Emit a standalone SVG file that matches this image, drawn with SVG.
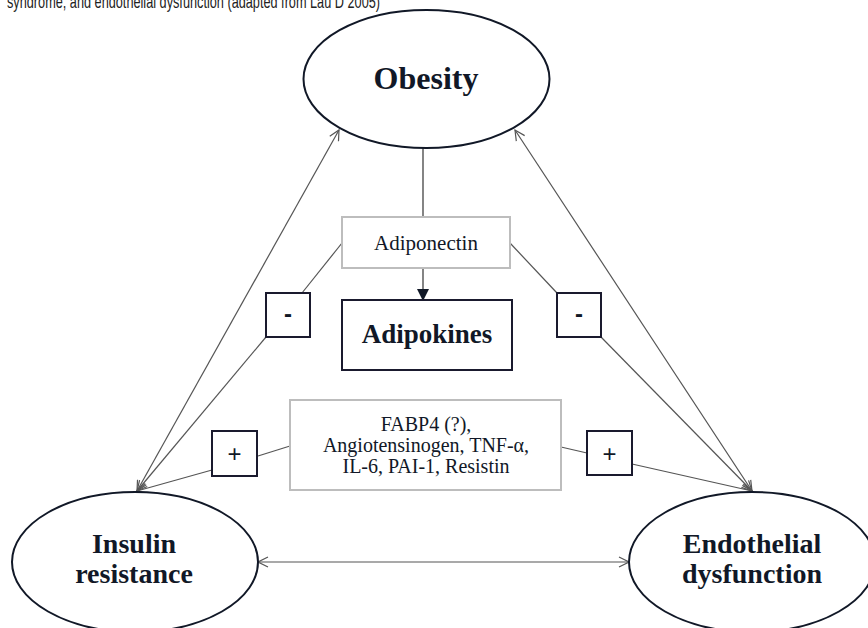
<svg xmlns="http://www.w3.org/2000/svg" width="868" height="628" viewBox="0 0 868 628">
<style>
.ell{fill:#fff;stroke:#111827;stroke-width:2}
.lbl{font-family:"Liberation Serif",serif;font-weight:bold;fill:#111827;text-anchor:middle}
.reg{font-family:"Liberation Serif",serif;fill:#111827;text-anchor:middle}
.lite{fill:#fff;stroke:#bdbdbd;stroke-width:2}
.dark{fill:#fff;stroke:#1a1a2e;stroke-width:2}
.con{fill:none;stroke:#555;stroke-width:1.2}
.sym{font-family:"Liberation Sans",sans-serif;fill:#111827;text-anchor:middle}
</style>
<defs>
<marker id="open" viewBox="0 0 12 12" refX="11" refY="6" markerWidth="12" markerHeight="12" markerUnits="userSpaceOnUse" orient="auto-start-reverse">
<path d="M1,1 L11,6 L1,11" fill="none" stroke="#555" stroke-width="1.2"/>
</marker>
<marker id="solid" viewBox="0 0 12 12" refX="11" refY="6" markerWidth="12" markerHeight="12" markerUnits="userSpaceOnUse" orient="auto">
<path d="M0,0 L12,6 L0,12 Z" fill="#111827"/>
</marker>
</defs>
<rect width="868" height="628" fill="#fff"/>
<text x="7" y="8" font-family="Liberation Sans, sans-serif" font-size="18" fill="#222" textLength="373" lengthAdjust="spacingAndGlyphs">syndrome, and endothelial dysfunction (adapted from Lau D 2005)</text>
<g id="connectors">
<line class="con" x1="339" y1="130" x2="137" y2="491" marker-start="url(#open)" marker-end="url(#open)"/>
<line class="con" x1="515" y1="130" x2="752" y2="491" marker-start="url(#open)" marker-end="url(#open)"/>
<line class="con" x1="258" y1="562" x2="629" y2="562" marker-start="url(#open)" marker-end="url(#open)"/>
<line class="con" x1="423" y1="148" x2="423" y2="217" style="stroke:#333"/>
<line class="con" x1="423" y1="268" x2="423" y2="300" style="stroke:#333" marker-end="url(#solid)"/>
<polyline class="con" points="342,243 302,293"/>
<line class="con" x1="266" y1="337" x2="137" y2="491" marker-end="url(#open)"/>
<polyline class="con" points="510,243 557,293"/>
<line class="con" x1="601" y1="337" x2="752" y2="491" marker-end="url(#open)"/>
<line class="con" x1="290" y1="446" x2="258" y2="456"/>
<line class="con" x1="212" y1="470" x2="137" y2="491" marker-end="url(#open)"/>
<line class="con" x1="561" y1="447" x2="587" y2="453"/>
<line class="con" x1="632" y1="464" x2="752" y2="491" marker-end="url(#open)"/>
</g>
<g id="obesity">
<ellipse class="ell" cx="426.5" cy="79" rx="123" ry="69"/>
<text class="lbl" x="426" y="89" font-size="32">Obesity</text>
</g>
<g id="adiponectin">
<rect class="lite" x="342" y="217" width="168" height="51"/>
<text class="reg" x="426" y="250" font-size="21">Adiponectin</text>
</g>
<g id="adipokines">
<rect class="dark" x="342" y="300" width="170" height="70"/>
<text class="lbl" x="427" y="343" font-size="27">Adipokines</text>
</g>
<g id="minus-left">
<rect class="dark" x="266" y="293" width="44" height="44"/>
<text class="sym" x="288" y="322" font-size="24" font-weight="bold">-</text>
</g>
<g id="minus-right">
<rect class="dark" x="557" y="293" width="44" height="44"/>
<text class="sym" x="579" y="322" font-size="24" font-weight="bold">-</text>
</g>
<g id="factors">
<rect class="lite" x="290" y="400" width="271" height="90"/>
<text class="reg" x="426" y="431" font-size="20">FABP4 (?),</text>
<text class="reg" x="426" y="452" font-size="20">Angiotensinogen, TNF-α,</text>
<text class="reg" x="426" y="473" font-size="20">IL-6, PAI-1, Resistin</text>
</g>
<g id="plus-left">
<rect class="dark" x="212" y="431" width="45" height="45"/>
<text class="sym" x="234.5" y="462" font-size="24">+</text>
</g>
<g id="plus-right">
<rect class="dark" x="587" y="431" width="45" height="44"/>
<text class="sym" x="609.5" y="462" font-size="24">+</text>
</g>
<g id="insulin">
<ellipse class="ell" cx="135" cy="562" rx="123" ry="70"/>
<text class="lbl" x="134" y="553" font-size="28">Insulin</text>
<text class="lbl" x="134" y="583" font-size="28">resistance</text>
</g>
<g id="endothelial">
<ellipse class="ell" cx="752" cy="562" rx="123" ry="70"/>
<text class="lbl" x="752" y="553" font-size="28">Endothelial</text>
<text class="lbl" x="752" y="583" font-size="28">dysfunction</text>
</g>
</svg>
